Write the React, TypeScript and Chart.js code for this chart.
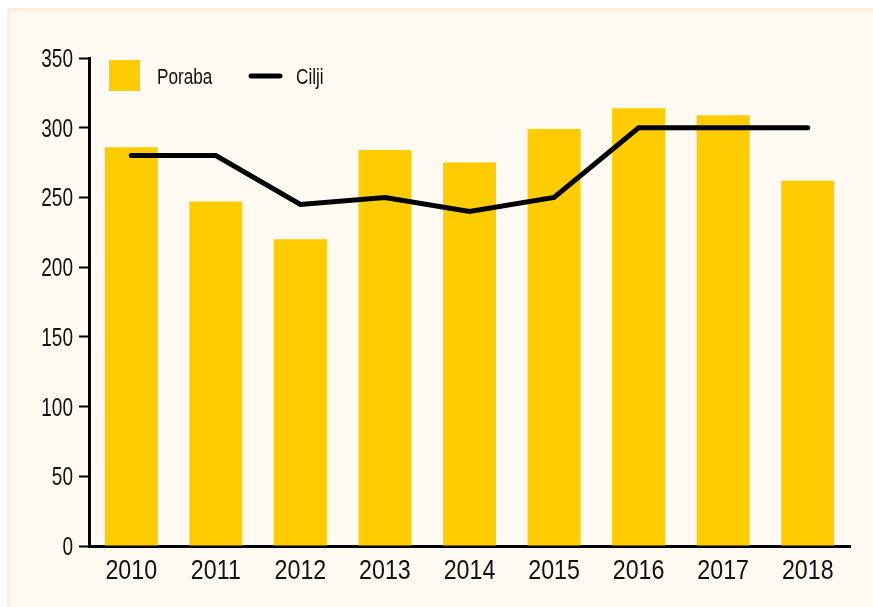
import React, { useEffect, useRef } from "react";
import { Chart, registerables } from "chart.js";

Chart.register(...registerables);

const categories = ["2010", "2011", "2012", "2013", "2014", "2015", "2016", "2017", "2018"];
const porabaValues = [286, 247, 220, 284, 275, 299, 314, 309, 262];
const ciljiValues = [280, 280, 245, 250, 240, 250, 300, 300, 300];
const yTicks = [0, 50, 100, 150, 200, 250, 300, 350];
const seriesNames = ["Poraba", "Cilji"];

const FONT = '"Liberation Sans", Arial, sans-serif';
const BAR_COLOR = "#FECC00";
const BG = "#FEF9F1";
const TEXT = "#111";

function narrowText(ctx: CanvasRenderingContext2D, text: string, x: number, y: number, sx: number, align: CanvasTextAlign) {
  ctx.save();
  ctx.translate(x, y);
  ctx.scale(sx, 1);
  ctx.textAlign = align;
  ctx.textBaseline = "alphabetic";
  ctx.fillText(text, 0, 0);
  ctx.restore();
}

const labelsPlugin = {
  id: "narrowLabels",
  afterDraw(chart: any) {
    const ctx: CanvasRenderingContext2D = chart.ctx;
    ctx.save();
    ctx.fillStyle = TEXT;
    // y tick labels
    const ys = chart.scales.y;
    ctx.font = `25px ${FONT}`;
    ys.ticks.forEach((t: any, i: number) => {
      const py = ys.getPixelForTick(i);
      narrowText(ctx, String(t.label ?? t.value), 73, py + 9, 0.76, "right");
    });
    // x tick labels
    const xs = chart.scales.x;
    ctx.font = `27px ${FONT}`;
    xs.ticks.forEach((t: any, i: number) => {
      const px = xs.getPixelForTick(i);
      narrowText(ctx, String(xs.getLabelForValue(t.value)), px, 578.5, 0.86, "center");
    });
    // legend
    ctx.fillStyle = BAR_COLOR;
    ctx.fillRect(109, 60, 31, 31);
    ctx.fillStyle = TEXT;
    ctx.font = `22px ${FONT}`;
    narrowText(ctx, seriesNames[0], 157, 83.5, 0.78, "left");
    ctx.strokeStyle = "#000";
    ctx.lineWidth = 5;
    ctx.lineCap = "round";
    ctx.beginPath();
    ctx.moveTo(251, 76);
    ctx.lineTo(280, 76);
    ctx.stroke();
    narrowText(ctx, seriesNames[1], 296, 83.5, 0.78, "left");
    ctx.restore();
  },
};

export default function App() {
  const ref = useRef<HTMLCanvasElement>(null);
  useEffect(() => {
    document.body.style.margin = "0";
    const chart = new Chart(ref.current!, {
      type: "bar",
      data: {
        labels: categories,
        datasets: [
          {
            type: "line",
            label: seriesNames[1],
            data: ciljiValues,
            borderColor: "#000",
            borderWidth: 5,
            pointRadius: 0,
            tension: 0,
            borderCapStyle: "round",
            borderJoinStyle: "miter",
            order: 0,
          } as any,
          {
            type: "bar",
            label: seriesNames[0],
            data: porabaValues,
            backgroundColor: BAR_COLOR,
            barPercentage: 0.627,
            categoryPercentage: 1,
            order: 1,
          },
        ],
      },
      options: {
        animation: false,
        responsive: false,
        maintainAspectRatio: false,
        layout: { padding: { top: 58, right: 23, left: 0, bottom: 0 } },
        plugins: { legend: { display: false }, tooltip: { enabled: false } },
        scales: {
          x: {
            grid: { display: false, drawTicks: false },
            border: { display: true, color: "#000", width: 3 },
            ticks: {
              color: "rgba(0,0,0,0)",
              font: { family: FONT, size: 26 },
              padding: 12,
              maxRotation: 0,
              autoSkip: false,
            },
            afterFit: (s: any) => {
              s.height = 61;
            },
          },
          y: {
            min: 0,
            max: 350,
            afterBuildTicks: (s: any) => {
              s.ticks = yTicks.map((v) => ({ value: v }));
            },
            grid: {
              drawOnChartArea: false,
              drawTicks: true,
              tickLength: 10,
              tickWidth: 2,
              tickColor: "#000",
            },
            border: { display: true, color: "#000", width: 3 },
            ticks: {
              color: "rgba(0,0,0,0)",
              font: { family: FONT, size: 22 },
              padding: 5,
            },
            afterFit: (s: any) => {
              s.width = 89;
            },
          },
        },
      },
      plugins: [labelsPlugin],
    });
    return () => chart.destroy();
  }, []);

  return (
    <div style={{ position: "relative", width: 873, height: 607, overflow: "hidden" }}>
      <div
        style={{
          position: "absolute",
          left: 7,
          top: 8,
          width: 866,
          height: 599,
          background: BG,
          borderTop: "3px solid #FDEDD6",
          borderLeft: "3px solid #FDEDD6",
          boxSizing: "border-box",
        }}
      />
      <canvas
        ref={ref}
        width={873}
        height={607}
        style={{ position: "absolute", left: 0, top: 0, width: 873, height: 607 }}
      />
    </div>
  );
}
